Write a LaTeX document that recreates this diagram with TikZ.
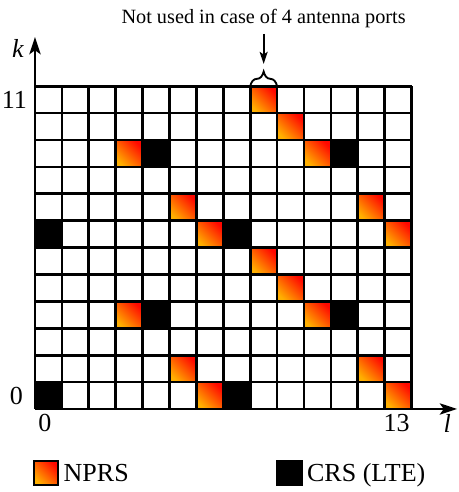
\documentclass[tikz,border=0pt]{standalone}
\usepackage{fontspec}
\setmainfont{Liberation Serif}
\usepackage{tikz}
\usetikzlibrary{positioning,arrows.meta,decorations.pathreplacing}
\definecolor{nprsred}{HTML}{FF0800}
\definecolor{nprsamber}{HTML}{FFB000}

\begin{document}
\begin{tikzpicture}[x=20.175pt,y=20.175pt,
  gridline/.style={line width=2pt},
  nprs/.style={top color=nprsred,bottom color=nprsamber,shading angle=-45},
  crs/.style={fill=black},
  axis/.style={line width=1.6pt,-{Stealth[length=13pt,width=8.5pt,inset=3pt]}},
  pointer/.style={line width=1.4pt,-{Stealth[length=9pt,width=6pt,inset=2pt]}},
  lbl/.style={font=\rmfamily\fontsize{19.5}{22}\selectfont,inner sep=0pt},
  key/.style={draw,line width=1.6pt,minimum size=18.5pt,inner sep=0pt},
  keytext/.style={font=\rmfamily\fontsize{19.5}{22}\selectfont,inner sep=0pt,text height=12.9pt,text depth=0pt}
]
\useasboundingbox (-1.301,-3.086) rectangle (15.725,15.204);
% resource elements
\foreach \l/\k in {8/11,9/10,3/9,10/9,5/7,12/7,6/6,13/6,8/5,9/4,3/3,10/3,5/1,12/1,6/0,13/0}
  \shade[nprs] (\l,\k) rectangle ++(1,1);
\foreach \l/\k in {4/9,11/9,0/6,7/6,4/3,11/3,0/0,7/0}
  \fill[crs] (\l,\k) rectangle ++(1,1);
\draw[gridline,step=1] (0,0) grid (14,12);
% axes
\coordinate (o) at (0,0);
\coordinate (ktip) at (0,13.83);
\coordinate (ltip) at (15.69,0);
\draw[axis] (o) -- (ktip);
\draw[axis] (o) -- (ltip);
\node[lbl] (klbl) at (-0.63,13.42) {\textit{k}};
\node[lbl] (kmax) at (-0.77,11.5) {11};
\node[lbl] (kmin) at (-0.69,0.47) {0};
\node[lbl] (lmin) at (0.37,-0.52) {0};
\node[lbl] (lmax) at (13.44,-0.52) {13};
\node[lbl] (llbl) at (15.32,-0.55) {\textit{l}};
% note on the top element
\coordinate (bl) at (8,12);
\coordinate (br) at (9,12);
\coordinate (bracetip) at (8.5,12.83);
\draw[line width=1.4pt,decorate,decoration={brace,amplitude=11pt}] (bl) -- (br);
\node[inner sep=0pt,font=\fontsize{15.2}{18}\selectfont] (note) at (8.5,14.5) {Not used in case of 4 antenna ports};
\draw[pointer,shorten <=4pt] (note.south) -- (bracetip);
% legend
\node[key,nprs] (nprskey) at (0.41,-2.38) {};
\node[keytext,right=3pt of nprskey] (nprstxt) {NPRS};
\node[key,crs] (crskey) at (9.46,-2.38) {};
\node[keytext,right=3pt of crskey] (crstxt) {CRS (LTE)};
\end{tikzpicture}
\end{document}
